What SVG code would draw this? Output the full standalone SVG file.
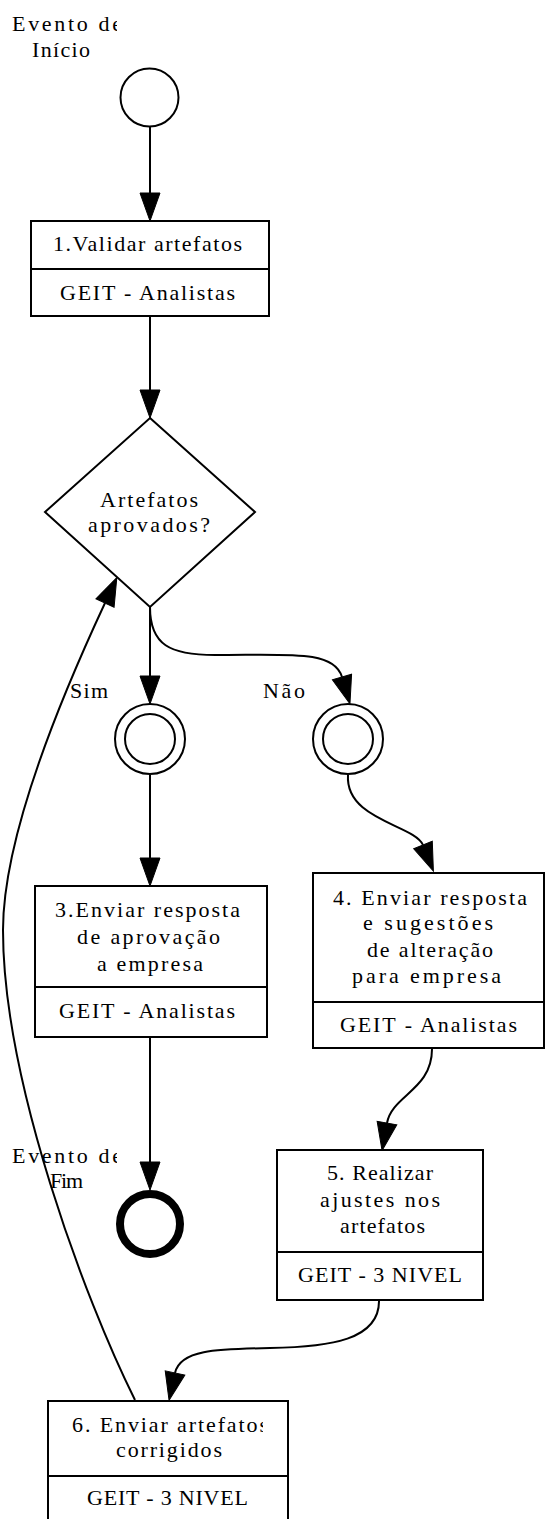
<svg xmlns="http://www.w3.org/2000/svg" width="545" height="1519" viewBox="0 0 545 1519">
<style>
.bg{fill:#ffffff}
.shape{fill:#ffffff;stroke:#000000;stroke-width:2}
.div{stroke:#000000;stroke-width:2}
.edge{fill:none;stroke:#000000;stroke-width:2}
text{font-family:"Liberation Serif","Times New Roman",serif;font-size:22px;fill:#000000}
</style>
<defs>
<marker id="arr" markerUnits="userSpaceOnUse" markerWidth="32" markerHeight="24" refX="1" refY="11" orient="auto">
<path d="M1,1 L29,11 L1,21 Z" fill="#000000" stroke="#000000" stroke-width="1"/>
</marker>
<clipPath id="clipStart"><rect x="0" y="0" width="117" height="70"/></clipPath>
<clipPath id="clipEnd"><rect x="0" y="1130" width="117" height="70"/></clipPath>
<clipPath id="clipSix"><rect x="48" y="1400" width="215" height="80"/></clipPath>
</defs>
<rect class="bg" x="0" y="0" width="545" height="1519"/>

<g id="connectors">
<path class="edge" d="M150,126 L150,193" marker-end="url(#arr)"/>
<path class="edge" d="M150,316 L150,390" marker-end="url(#arr)"/>
<path class="edge" d="M150,607 L150,676" marker-end="url(#arr)"/>
<path class="edge" d="M150,607 C150,645 170,655 215,655 C290,655 334,650 342,677" marker-end="url(#arr)"/>
<path class="edge" d="M150,775 L150,858" marker-end="url(#arr)"/>
<path class="edge" d="M348,775 C345,820 415,825 423,845" marker-end="url(#arr)"/>
<path class="edge" d="M150,1037 L150,1162" marker-end="url(#arr)"/>
<path class="edge" d="M432,1049 C432,1090 392,1095 387,1123" marker-end="url(#arr)"/>
<path class="edge" d="M379,1300 C380,1340 330,1347 270,1348 C215,1349 180,1350 175,1373" marker-end="url(#arr)"/>
<path class="edge" d="M135,1400 C85,1300 3,1080 3,930 C3,830 71,676 105,603" marker-end="url(#arr)"/>
<text x="70" y="698" textLength="38" lengthAdjust="spacing">Sim</text>
<text x="263" y="698" textLength="42" lengthAdjust="spacing">Não</text>
</g>

<g id="start">
<circle class="shape" cx="149.5" cy="97.5" r="29"/>
<g clip-path="url(#clipStart)">
<text x="12" y="31" textLength="110" lengthAdjust="spacing">Evento de</text>
</g>
<text x="32" y="57" textLength="58" lengthAdjust="spacing">Início</text>
</g>

<g id="task1">
<rect class="shape" x="31" y="221" width="238" height="95"/>
<line class="div" x1="31" y1="269" x2="269" y2="269"/>
<text x="53" y="251" textLength="189" lengthAdjust="spacing">1.Validar artefatos</text>
<text x="60" y="300" textLength="175" lengthAdjust="spacing">GEIT - Analistas</text>
</g>

<g id="gateway">
<polygon class="shape" points="150,418 255,512 150,607 45,512"/>
<text x="100" y="507" textLength="98" lengthAdjust="spacing">Artefatos</text>
<text x="88" y="532" textLength="122" lengthAdjust="spacing">aprovados?</text>
</g>

<g id="intermediate-sim">
<circle class="shape" cx="150" cy="739" r="35"/>
<circle class="shape" cx="150" cy="739" r="25"/>
</g>

<g id="intermediate-nao">
<circle class="shape" cx="348" cy="739" r="35"/>
<circle class="shape" cx="348" cy="739" r="25"/>
</g>

<g id="task3">
<rect class="shape" x="35" y="886" width="232" height="151"/>
<line class="div" x1="35" y1="987" x2="267" y2="987"/>
<text x="55" y="917" textLength="185" lengthAdjust="spacing">3.Enviar resposta</text>
<text x="77" y="944" textLength="143" lengthAdjust="spacing">de aprovação</text>
<text x="97" y="971" textLength="106" lengthAdjust="spacing">a empresa</text>
<text x="59" y="1018" textLength="176" lengthAdjust="spacing">GEIT - Analistas</text>
</g>

<g id="task4">
<rect class="shape" x="313" y="873" width="231" height="175"/>
<line class="div" x1="313" y1="1002" x2="544" y2="1002"/>
<text x="333" y="905" textLength="194" lengthAdjust="spacing">4. Enviar resposta</text>
<text x="363" y="930" textLength="130" lengthAdjust="spacing">e sugestões</text>
<text x="367" y="957" textLength="126" lengthAdjust="spacing">de alteração</text>
<text x="352" y="983" textLength="149" lengthAdjust="spacing">para empresa</text>
<text x="340" y="1032" textLength="177" lengthAdjust="spacing">GEIT - Analistas</text>
</g>

<g id="end">
<circle cx="150" cy="1224" r="30" fill="#ffffff" stroke="#000000" stroke-width="8"/>
<g clip-path="url(#clipEnd)">
<text x="12" y="1163" textLength="110" lengthAdjust="spacing">Evento de</text>
</g>
<text x="50" y="1188" textLength="33" lengthAdjust="spacing">Fim</text>
</g>

<g id="task5">
<rect class="shape" x="277" y="1150" width="206" height="150"/>
<line class="div" x1="277" y1="1252" x2="483" y2="1252"/>
<text x="327" y="1180" textLength="106" lengthAdjust="spacing">5. Realizar</text>
<text x="320" y="1207" textLength="120" lengthAdjust="spacing">ajustes nos</text>
<text x="340" y="1233" textLength="85" lengthAdjust="spacing">artefatos</text>
<text x="298" y="1282" textLength="164" lengthAdjust="spacing">GEIT - 3 NIVEL</text>
</g>

<g id="task6">
<rect class="shape" x="48" y="1401" width="240" height="130"/>
<line class="div" x1="48" y1="1476" x2="288" y2="1476"/>
<g clip-path="url(#clipSix)">
<text x="72" y="1432" textLength="196" lengthAdjust="spacing">6. Enviar artefatos</text>
</g>
<text x="116" y="1457" textLength="106" lengthAdjust="spacing">corrigidos</text>
<text x="87" y="1505" textLength="161" lengthAdjust="spacing">GEIT - 3 NIVEL</text>
</g>
</svg>
